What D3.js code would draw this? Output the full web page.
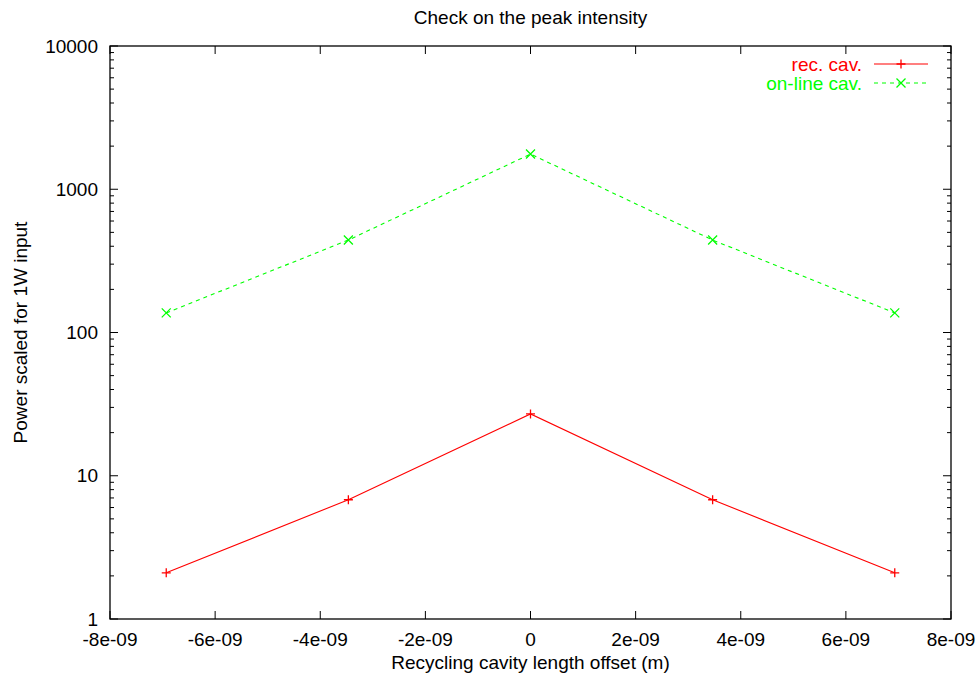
<!DOCTYPE html>
<html>
<head>
<meta charset="utf-8">
<script src="https://cdn.jsdelivr.net/npm/d3@7"></script>
<style>
  body { margin: 0; background: #fff; }
  text { font-family: "Liberation Sans", Arial, sans-serif; }
</style>
</head>
<body>
<div id="chart"></div>
<script>
// data
const offsets = [-6.93e-9, -3.465e-9, 0, 3.465e-9, 6.93e-9];
const recCav = [2.1, 6.8, 27.0, 6.8, 2.1];
const onlineCav = [137, 442, 1760, 442, 137];
const xTicks = [-8e-9, -6e-9, -4e-9, -2e-9, 0, 2e-9, 4e-9, 6e-9, 8e-9];
const xTickLabels = ["-8e-09", "-6e-09", "-4e-09", "-2e-09", "0", "2e-09", "4e-09", "6e-09", "8e-09"];
const yTicks = [1, 10, 100, 1000, 10000];

const W = 977, H = 681;
const margin = {left: 110, right: 26, top: 46, bottom: 62};

const svg = d3.select("#chart").append("svg")
    .attr("width", W)
    .attr("height", H);

const x = d3.scaleLinear().domain([-8e-9, 8e-9]).range([margin.left, W - margin.right]);
const y = d3.scaleLog().domain([1, 10000]).range([H - margin.bottom, margin.top]);

const fs = 19;

// frame
svg.append("rect")
    .attr("x", margin.left).attr("y", margin.top)
    .attr("width", W - margin.left - margin.right)
    .attr("height", H - margin.top - margin.bottom)
    .attr("fill", "none").attr("stroke", "#000").attr("stroke-width", 1.3);

// x ticks, bottom and top, pointing inward
const xt = svg.append("g");
xTicks.forEach((t, i) => {
    const px = x(t);
    xt.append("line").attr("x1", px).attr("x2", px)
        .attr("y1", y(1)).attr("y2", y(1) - 8).attr("stroke", "#000");
    xt.append("line").attr("x1", px).attr("x2", px)
        .attr("y1", y(10000)).attr("y2", y(10000) + 8).attr("stroke", "#000");
    xt.append("text").attr("x", px).attr("y", y(1) + 27)
        .attr("text-anchor", "middle").attr("font-size", fs)
        .text(xTickLabels[i]);
});

// y ticks: majors with labels, minors 2..9 in each decade
const yt = svg.append("g");
yTicks.forEach(t => {
    const py = y(t);
    yt.append("line").attr("x1", x(-8e-9)).attr("x2", x(-8e-9) + 8)
        .attr("y1", py).attr("y2", py).attr("stroke", "#000");
    yt.append("line").attr("x1", x(8e-9)).attr("x2", x(8e-9) - 8)
        .attr("y1", py).attr("y2", py).attr("stroke", "#000");
    yt.append("text").attr("x", x(-8e-9) - 12).attr("y", py)
        .attr("dy", "0.35em")
        .attr("text-anchor", "end").attr("font-size", fs)
        .text(t);
    if (t < 10000) {
        for (let k = 2; k <= 9; k++) {
            const pm = y(t * k);
            yt.append("line").attr("x1", x(-8e-9)).attr("x2", x(-8e-9) + 4)
                .attr("y1", pm).attr("y2", pm).attr("stroke", "#000");
            yt.append("line").attr("x1", x(8e-9)).attr("x2", x(8e-9) - 4)
                .attr("y1", pm).attr("y2", pm).attr("stroke", "#000");
        }
    }
});

// titles
svg.append("text").attr("x", (margin.left + W - margin.right) / 2).attr("y", 24)
    .attr("text-anchor", "middle").attr("font-size", fs)
    .text("Check on the peak intensity");
svg.append("text").attr("x", (margin.left + W - margin.right) / 2).attr("y", 669)
    .attr("text-anchor", "middle").attr("font-size", fs)
    .text("Recycling cavity length offset (m)");
svg.append("text")
    .attr("transform", "translate(27," + (margin.top + H - margin.bottom) / 2 + ") rotate(-90)")
    .attr("text-anchor", "middle").attr("font-size", fs)
    .text("Power scaled for 1W input");

const line = d3.line().x(d => x(d[0])).y(d => y(d[1]));

function plus(g, cx, cy, c) {
    g.append("path").attr("d", `M${cx - 4.5},${cy}H${cx + 4.5}M${cx},${cy - 4.5}V${cy + 4.5}`)
        .attr("stroke", c).attr("stroke-width", 1.3).attr("fill", "none");
}
function cross(g, cx, cy, c) {
    g.append("path").attr("d", `M${cx - 4.5},${cy - 4.5}L${cx + 4.5},${cy + 4.5}M${cx - 4.5},${cy + 4.5}L${cx + 4.5},${cy - 4.5}`)
        .attr("stroke", c).attr("stroke-width", 1.3).attr("fill", "none");
}

// rec. cav.
const red = "#ff0000", green = "#00ff00";
const recData = offsets.map((o, i) => [o, recCav[i]]);
svg.append("path").datum(recData).attr("d", line)
    .attr("fill", "none").attr("stroke", red).attr("stroke-width", 1.1);
const gRec = svg.append("g");
recData.forEach(d => plus(gRec, x(d[0]), y(d[1]), red));

// on-line cav.
const onData = offsets.map((o, i) => [o, onlineCav[i]]);
svg.append("path").datum(onData).attr("d", line)
    .attr("fill", "none").attr("stroke", green).attr("stroke-width", 1.1)
    .attr("stroke-dasharray", "4,4");
const gOn = svg.append("g");
onData.forEach(d => cross(gOn, x(d[0]), y(d[1]), green));

// legend
const lg = svg.append("g");
lg.append("text").attr("x", 862).attr("y", 64).attr("dy", "0.35em")
    .attr("text-anchor", "end").attr("font-size", fs).attr("fill", red).text("rec. cav.");
lg.append("line").attr("x1", 874).attr("x2", 928).attr("y1", 64).attr("y2", 64)
    .attr("stroke", red).attr("stroke-width", 1.1);
plus(lg, 901, 64, red);
lg.append("text").attr("x", 862).attr("y", 83).attr("dy", "0.35em")
    .attr("text-anchor", "end").attr("font-size", fs).attr("fill", green).text("on-line cav.");
lg.append("line").attr("x1", 874).attr("x2", 928).attr("y1", 83).attr("y2", 83)
    .attr("stroke", green).attr("stroke-width", 1.1).attr("stroke-dasharray", "4,4");
cross(lg, 901, 83, green);
</script>
</body>
</html>
